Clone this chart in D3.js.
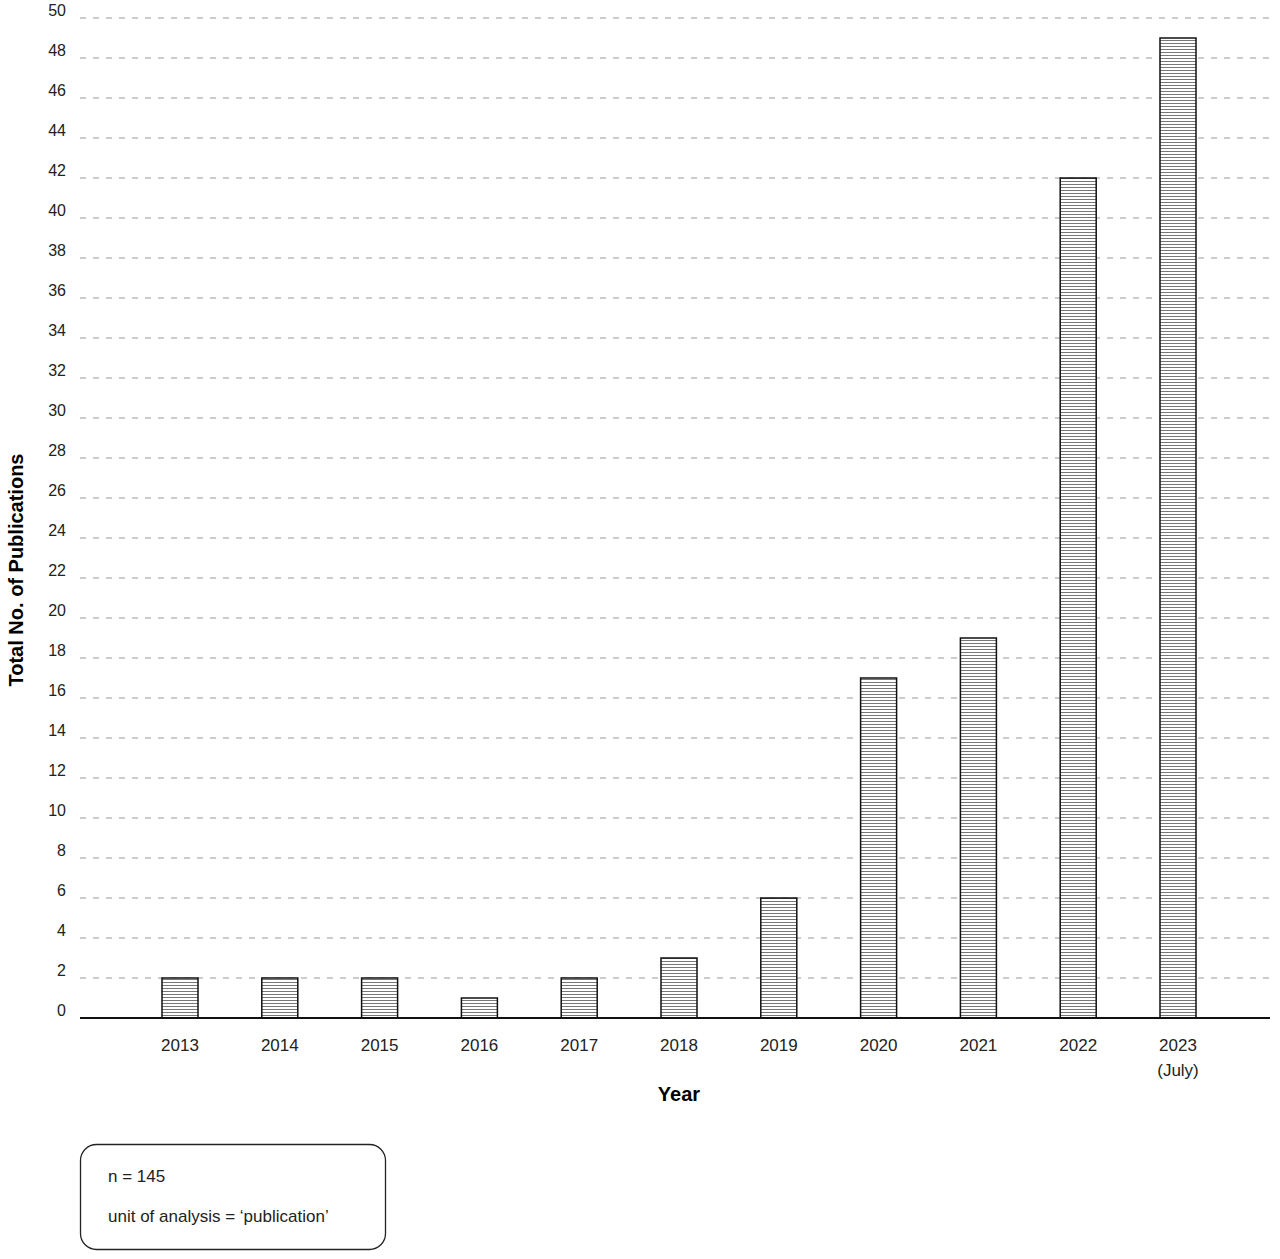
<!DOCTYPE html><html><head><meta charset="utf-8"><script src="https://cdn.jsdelivr.net/npm/d3@7"></script>
<style>body{margin:0;background:#fff}text{font-family:Arial,"Liberation Sans",sans-serif}</style></head><body>
<svg id="c" width="1280" height="1259"></svg>
<script>
const years=["2013","2014","2015","2016","2017","2018","2019","2020","2021","2022","2023"];
const subLabels={"2023":"(July)"};
const counts=[2,2,2,1,2,3,6,17,19,42,49];
const yTicks=d3.range(0,51,2);
const svg=d3.select("#c");
const defs=svg.append("defs");
const pat=defs.append("pattern").attr("id","hl").attr("patternUnits","userSpaceOnUse").attr("width",6).attr("height",3);
pat.append("rect").attr("width",6).attr("height",3).attr("fill","#fff");
pat.append("line").attr("x1",0).attr("x2",6).attr("y1",1.5).attr("y2",1.5).attr("stroke","#777").attr("stroke-width",1);
const x=d3.scalePoint().domain(years).range([180,1178]);
const y=d3.scaleLinear().domain([0,50]).range([1018,18]);
const L=80,R=1270,bw=36;
const g=svg.append("g");
g.selectAll(".grid").data(yTicks.filter(d=>d>0)).join("line").attr("x1",L).attr("x2",R).attr("y1",d=>y(d)).attr("y2",d=>y(d)).attr("stroke","#999").attr("stroke-dasharray","6,7");
g.selectAll(".yl").data(yTicks).join("text").attr("x",66).attr("y",d=>y(d)-2).attr("text-anchor","end").attr("font-size",16).attr("fill","#222").text(d=>d);
g.selectAll(".bar").data(years).join("rect").attr("x",d=>x(d)-bw/2).attr("width",bw).attr("y",(d,i)=>y(counts[i])).attr("height",(d,i)=>y(0)-y(counts[i])).attr("fill","url(#hl)").attr("stroke","#111").attr("stroke-width",1.5);
g.append("line").attr("x1",L).attr("x2",R).attr("y1",y(0)).attr("y2",y(0)).attr("stroke","#111").attr("stroke-width",2);
g.selectAll(".xl").data(years).join("text").attr("x",d=>x(d)).attr("y",1051).attr("text-anchor","middle").attr("font-size",17).attr("fill","#222").text(d=>d);
g.selectAll(".xs").data(years.filter(d=>subLabels[d])).join("text").attr("x",d=>x(d)).attr("y",1076).attr("text-anchor","middle").attr("font-size",17).attr("fill","#222").text(d=>subLabels[d]);
svg.append("text").attr("x",679).attr("y",1101).attr("text-anchor","middle").attr("font-size",20).attr("font-weight","bold").text("Year");
svg.append("text").attr("transform","translate(23,570) rotate(-90)").attr("text-anchor","middle").attr("font-size",20).attr("font-weight","bold").text("Total No. of Publications");
svg.append("rect").attr("x",80.5).attr("y",1144.5).attr("width",305).attr("height",105).attr("rx",16).attr("fill","none").attr("stroke","#222").attr("stroke-width",1.3);
svg.append("text").attr("x",108).attr("y",1182).attr("font-size",17).attr("fill","#222").text("n = 145");
svg.append("text").attr("x",108).attr("y",1222).attr("font-size",17).attr("fill","#222").text("unit of analysis = ‘publication’");
</script></body></html>
